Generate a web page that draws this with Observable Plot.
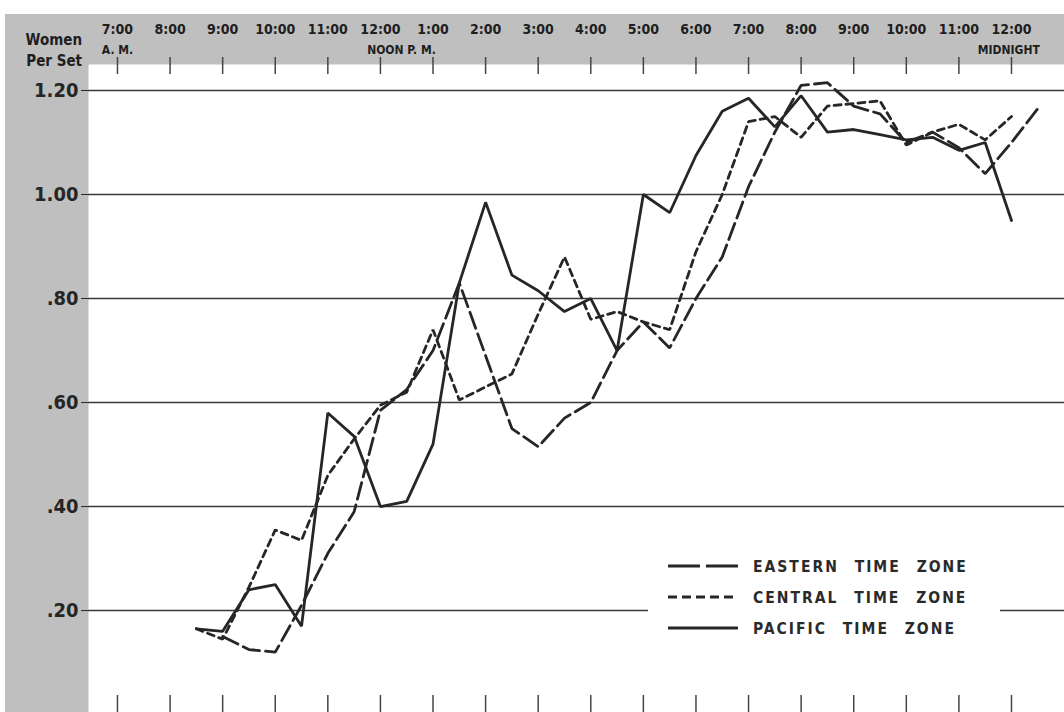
<!DOCTYPE html>
<html>
<head>
<meta charset="utf-8">
<script src="https://cdn.jsdelivr.net/npm/d3@7"></script>
<script src="https://cdn.jsdelivr.net/npm/@observablehq/plot@0.6"></script>
<style>
  html, body { margin: 0; padding: 0; background: #fff; }
  #wrap { position: relative; width: 1064px; height: 712px; overflow: hidden; }
  #band { position: absolute; left: 5px; top: 14px; right: 0; bottom: 0; background: #bfbfbf; }
  #chart { position: absolute; left: 0; top: 0; }
  #chart svg { background: transparent; }
  #ylab { position: absolute; left: 12px; top: 30px; width: 70px; text-align: right;
          font-family: "Liberation Sans Narrow", "DejaVu Sans Condensed", sans-serif; font-stretch: condensed;
          font-weight: bold; font-size: 15px; line-height: 21px; color: #1e1e1e; }
  #legend { position: absolute; left: 648px; top: 546px; width: 352px; height: 100px; background: #fff; }
  #legend svg text { font-family: "DejaVu Sans Condensed", sans-serif; font-weight: bold; font-size: 15.5px;
          fill: #2a2a2a; letter-spacing: 2px; word-spacing: 9px; }
</style>
</head>
<body>
<div id="wrap">
  <div id="band"></div>
  <div id="chart"></div>
  <div id="ylab">Women<br>Per Set</div>
  <div id="legend"></div>
</div>
<script>
// ---- data ----
const times = [8.5, 9, 9.5, 10, 10.5, 11, 11.5, 12, 12.5, 13, 13.5, 14, 14.5, 15, 15.5, 16, 16.5,
               17, 17.5, 18, 18.5, 19, 19.5, 20, 20.5, 21, 21.5, 22, 22.5, 23, 23.5, 24, 24.5];
const eastern = [null, 0.15, 0.125, 0.12, 0.21, 0.31, 0.39, 0.585, 0.625, 0.70, 0.83, 0.69, 0.55, 0.515, 0.57, 0.60, 0.70,
                 0.755, 0.705, 0.80, 0.88, 1.015, 1.12, 1.21, 1.215, 1.17, 1.155, 1.10, 1.12, 1.09, 1.04, 1.10, 1.165];
const central = [0.165, 0.145, 0.245, 0.355, 0.335, 0.46, 0.53, 0.595, 0.62, 0.74, 0.605, 0.63, 0.655, 0.77, 0.88, 0.76, 0.775,
                 0.755, 0.74, 0.89, 1.00, 1.14, 1.15, 1.11, 1.17, 1.175, 1.18, 1.095, 1.12, 1.135, 1.105, 1.15, null];
const pacific = [0.165, 0.16, 0.24, 0.25, 0.17, 0.58, 0.535, 0.40, 0.41, 0.52, 0.83, 0.985, 0.845, 0.815, 0.775, 0.80, 0.70,
                 1.00, 0.965, 1.075, 1.16, 1.185, 1.13, 1.19, 1.12, 1.125, 1.115, 1.105, 1.11, 1.085, 1.10, 0.95, null];

const seriesNames = ["EASTERN TIME ZONE", "CENTRAL TIME ZONE", "PACIFIC TIME ZONE"];
const seriesDash = ["17,6", "7,5", null];

const hourTicks = [7, 8, 9, 10, 11, 12, 13, 14, 15, 16, 17, 18, 19, 20, 21, 22, 23, 24];
const hourLabels = ["7:00", "8:00", "9:00", "10:00", "11:00", "12:00", "1:00", "2:00", "3:00", "4:00",
                    "5:00", "6:00", "7:00", "8:00", "9:00", "10:00", "11:00", "12:00"];
const subLabelPos = [7, 12.4, 23.95];
const subLabels = ["A. M.", "NOON P. M.", "MIDNIGHT"];

const yTicks = [0.2, 0.4, 0.6, 0.8, 1.0, 1.2];
const yLabels = [".20", ".40", ".60", ".80", "1.00", "1.20"];

// ---- build ----
function rows(vals) {
  return times.map((t, i) => ({time: t, value: vals[i]})).filter(d => d.value != null);
}
const ink = "#262626";
const fontFam = "'Liberation Sans Narrow', 'DejaVu Sans Condensed', sans-serif";
const seriesVals = [eastern, central, pacific];

const plot = Plot.plot({
  width: 1064,
  height: 712,
  marginTop: 64,
  marginLeft: 88,
  marginRight: 0,
  marginBottom: 0,
  x: {domain: [6.449, 25.008], axis: null},
  y: {domain: [0.004, 1.25], axis: null},
  marks: [
    Plot.frame({fill: "white", stroke: "none"}),
    Plot.gridY(yTicks, {stroke: "#3a3a3a", strokeOpacity: 1, strokeWidth: 1.6}),
    Plot.axisY(yTicks, {
      label: null,
      tickFormat: (d) => yLabels[yTicks.indexOf(d)],
      tickSize: 7, tickPadding: 3, fontSize: 20, fontWeight: "bold",
      fontFamily: "'DejaVu Sans Condensed', sans-serif", stroke: ink, color: ink
    }),
    Plot.tickX(hourTicks, {x: d => d, insetTop: -7, insetBottom: 638, stroke: "#444", strokeWidth: 1.5}),
    Plot.tickX(hourTicks, {x: d => d, insetTop: 631, stroke: "#444", strokeWidth: 1.5}),
    Plot.text(hourTicks, {
      x: d => d, text: (d, i) => hourLabels[i], frameAnchor: "top", dy: -35, lineAnchor: "middle",
      fontSize: 14, fontWeight: "bold", fontFamily: fontFam, fill: "#1e1e1e"
    }),
    Plot.text(subLabelPos, {
      x: d => d, text: (d, i) => subLabels[i], frameAnchor: "top", dy: -14, lineAnchor: "middle",
      fontSize: 12, fontWeight: "bold", fontFamily: fontFam, fill: "#1e1e1e"
    }),
    ...seriesVals.map((vals, k) => Plot.line(rows(vals), {
      x: "time", y: "value", stroke: ink, strokeWidth: 2.8,
      strokeDasharray: seriesDash[k] || undefined, strokeLinejoin: "miter", curve: "linear"
    }))
  ]
});
document.getElementById("chart").appendChild(plot);

// ---- legend ----
const lg = d3.select("#legend").append("svg").attr("width", 352).attr("height", 100);
seriesNames.forEach((name, k) => {
  const y = 20 + k * 31;
  const ln = lg.append("line").attr("x1", 20).attr("x2", 90).attr("y1", y).attr("y2", y)
    .attr("stroke", ink).attr("stroke-width", 2.8);
  if (seriesDash[k]) ln.attr("stroke-dasharray", k === 0 ? "32,6" : "9,5");
  lg.append("text").attr("x", 105).attr("y", y).attr("dy", "0.36em").text(name);
});
</script>
</body>
</html>
